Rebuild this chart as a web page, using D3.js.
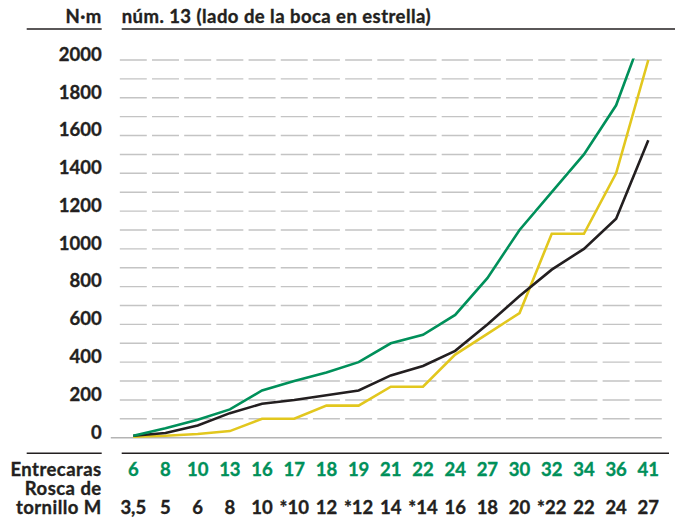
<!DOCTYPE html>
<html>
<head>
<meta charset="utf-8">
<script src="https://cdn.jsdelivr.net/npm/d3@7"></script>
<style>
  html, body { margin: 0; padding: 0; background: #ffffff; }
  svg text { font-family: Lato, "Noto Sans", sans-serif; font-weight: 700; stroke-width: 0.35px; }
  svg text.word { letter-spacing: 0.45px; }
</style>
</head>
<body>
<svg id="chart" width="675" height="519"></svg>
<script>
// Wrench sizes across the flats (mm) and matching screw threads
const entrecaras = [6, 8, 10, 13, 16, 17, 18, 19, 21, 22, 24, 27, 30, 32, 34, 36, 41];
const roscas = ["3,5", "5", "6", "8", "10", "*10", "12", "*12", "14", "*14", "16", "18", "20", "*22", "22", "24", "27"];

// Torque values (N·m) per wrench size
const serieVerde = [10, 50, 95, 150, 250, 300, 345, 400, 500, 545, 650, 845, 1100, 1300, 1500, 1760, 2220];
const serieNegra = [10, 25, 65, 130, 180, 200, 225, 250, 330, 380, 460, 600, 750, 890, 1000, 1160, 1575];
const serieAmarilla = [5, 10, 20, 35, 100, 100, 170, 170, 270, 270, 440, 550, 660, 1080, 1080, 1400, 2000];

const yTicks = [0, 200, 400, 600, 800, 1000, 1200, 1400, 1600, 1800, 2000];
const gridValues = d3.range(0, 2001, 100);

const svg = d3.select("#chart");
const ink = "#231f20";
const green = "#00905a";
const fs = 18.5;

const x = d3.scalePoint().domain(entrecaras).range([133.3, 648.3]);
const y = d3.scaleLinear().domain([0, 2000]).range([437.7, 60]);
const step = x.step();

// Header
svg.append("text").attr("class", "word").attr("x", 101.7).attr("y", 22.7).attr("text-anchor", "end")
  .attr("font-size", fs).attr("fill", ink).attr("stroke", ink).text("N·m");
svg.append("text").attr("class", "word").attr("x", 121.7).attr("y", 22.7)
  .attr("font-size", fs).attr("fill", ink).attr("stroke", ink)
  .text("núm. 13 (lado de la boca en estrella)");

// Header and footer rules
const rules = [
  [26.7, 101.7, 29], [121.7, 675, 29],
  [26.7, 101.7, 453.3], [121.7, 669, 453.3]
];
svg.append("g").selectAll("line").data(rules).join("line")
  .attr("x1", d => d[0]).attr("x2", d => d[1])
  .attr("y1", d => d[2]).attr("y2", d => d[2])
  .attr("stroke", ink).attr("stroke-width", 1.6);

// Dashed gridlines, one dash per size column
const gx0 = x(entrecaras[0]) - step / 2 + 2.6;
const gx1 = x(entrecaras[entrecaras.length - 1]) + step / 2 - 2.6;
svg.append("g").selectAll("line").data(gridValues.filter(v => v > 0)).join("line")
  .attr("x1", gx0).attr("x2", gx1)
  .attr("y1", d => y(d)).attr("y2", d => y(d))
  .attr("stroke", "#c4c4c4").attr("stroke-width", 1.4)
  .attr("stroke-dasharray", `${step - 5.2},5.2`);

// Solid zero line
svg.append("line").attr("x1", gx0 - 9).attr("x2", gx1)
  .attr("y1", y(0)).attr("y2", y(0))
  .attr("stroke", "#b4b4b4").attr("stroke-width", 1.6);

// Y axis labels
svg.append("g").selectAll("text").data(yTicks).join("text")
  .attr("x", 101.7).attr("y", d => y(d) + 0.8)
  .attr("text-anchor", "end").attr("font-size", fs).attr("fill", ink).attr("stroke", ink)
  .text(d => d);

// Lines, clipped at the top of the scale
svg.append("clipPath").attr("id", "plot-clip")
  .append("rect").attr("x", 100).attr("y", y(2000) - 1.5).attr("width", 575).attr("height", 400);

const line = d3.line().x((d, i) => x(entrecaras[i])).y(d => y(d));
const series = [
  { values: serieAmarilla, color: "#e2c71e" },
  { values: serieNegra, color: ink },
  { values: serieVerde, color: green }
];
svg.append("g").attr("clip-path", "url(#plot-clip)")
  .selectAll("path").data(series).join("path")
  .attr("d", d => line(d.values))
  .attr("fill", "none").attr("stroke", d => d.color)
  .attr("stroke-width", 2.6).attr("stroke-linejoin", "miter");

// Bottom table of sizes
const rowLabels = [["Entrecaras", 476], ["Rosca de", 495], ["tornillo M", 514]];
svg.append("g").selectAll("text").data(rowLabels).join("text")
  .attr("class", "word")
  .attr("x", 101.7).attr("y", d => d[1]).attr("text-anchor", "end")
  .attr("font-size", fs).attr("fill", ink).attr("stroke", ink).text(d => d[0]);

svg.append("g").selectAll("text").data(entrecaras).join("text")
  .attr("x", d => x(d)).attr("y", 476).attr("text-anchor", "middle")
  .attr("font-size", fs).attr("fill", green).attr("stroke", green).text(d => d);

svg.append("g").selectAll("text").data(roscas).join("text")
  .attr("x", (d, i) => x(entrecaras[i])).attr("y", 514).attr("text-anchor", "middle")
  .attr("font-size", fs).attr("fill", ink).attr("stroke", ink).text(d => d);
</script>
</body>
</html>
